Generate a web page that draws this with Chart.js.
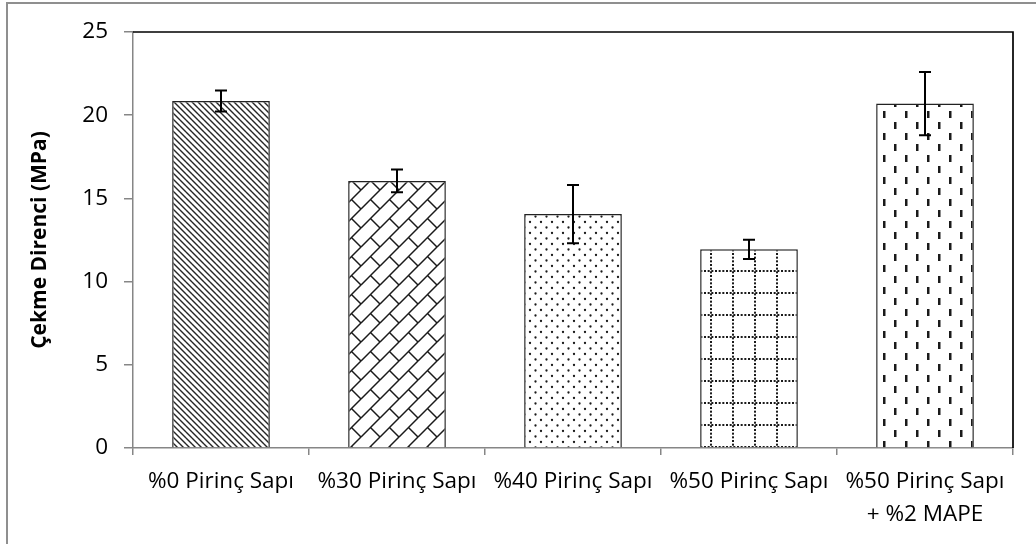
<!DOCTYPE html>
<html lang="tr">
<head>
<meta charset="utf-8">
<title>Çekme Direnci</title>
<script src="https://cdn.jsdelivr.net/npm/chart.js@4/dist/chart.umd.min.js"></script>
<style>
  html, body { margin: 0; padding: 0; background: #fff; }
  #wrap { position: relative; width: 1036px; height: 544px; }
  canvas { display: block; }
</style>
</head>
<body>
<div id="wrap"><canvas id="chart" width="1036" height="544"></canvas></div>
<script>
// Sample groups (x-axis categories); the last one wraps onto two lines
const categories = [
  '%0 Pirinç Sapı',
  '%30 Pirinç Sapı',
  '%40 Pirinç Sapı',
  '%50 Pirinç Sapı',
  ['%50 Pirinç Sapı', '+ %2 MAPE']
];
// Mean tensile strength (MPa) and its standard deviation
const tensileStrength = [20.85, 16.05, 14.06, 11.94, 20.70];
const errorMargin = [0.63, 0.68, 1.75, 0.58, 1.90];
// Value axis
const yMin = 0;
const yMax = 25;
const yStep = 5;
const yTitle = 'Çekme Direnci (MPa)';

const INK = '#1a1a1a';

function makeTile(size, draw) {
  const c = document.createElement('canvas');
  c.width = size; c.height = size;
  const g = c.getContext('2d');
  g.fillStyle = '#fff';
  g.fillRect(0, 0, size, size);
  g.strokeStyle = INK;
  g.fillStyle = INK;
  draw(g, size);
  return document.createElement('canvas').getContext('2d').createPattern(c, 'repeat');
}

// Repeat a drawing at the 3x3 neighbouring offsets so edges wrap seamlessly
function wrapped(g, s, fn) {
  for (let dx = -s; dx <= s; dx += s) {
    for (let dy = -s; dy <= s; dy += s) fn(dx, dy);
  }
}

// 1) dense downward diagonal hatch
const hatchDiagonal = makeTile(6, (g, s) => {
  g.lineWidth = 1.4;
  g.strokeStyle = '#262626';
  wrapped(g, s, (dx, dy) => {
    g.beginPath(); g.moveTo(dx, dy); g.lineTo(dx + s, dy + s); g.stroke();
  });
});

// 2) diagonal brick
const hatchBrick = makeTile(19, (g, s) => {
  g.lineWidth = 1.5;
  wrapped(g, s, (dx, dy) => {
    g.beginPath(); g.moveTo(dx, dy + s); g.lineTo(dx + s, dy); g.stroke();
    g.beginPath(); g.moveTo(dx + s / 2, dy + s / 2); g.lineTo(dx + s, dy + s); g.stroke();
  });
});

// 3) sparse staggered dots
const hatchDots = makeTile(11, (g, s) => {
  wrapped(g, s, (dx, dy) => {
    g.beginPath(); g.arc(dx + 2, dy + 2, 1.15, 0, Math.PI * 2); g.fill();
    g.beginPath(); g.arc(dx + 2 + s / 2, dy + 2 + s / 2, 1.15, 0, Math.PI * 2); g.fill();
  });
});

// 4) dotted grid
const hatchDottedGrid = makeTile(22, (g, s) => {
  const n = 6, step = s / n;
  for (let i = 0; i < n; i++) {
    g.fillRect(i * step, 6, 2, 2);
    g.fillRect(6, i * step, 2, 2);
  }
});

// 5) staggered short vertical dashes
const hatchDashes = makeTile(22, (g, s) => {
  g.fillRect(3, 1, 2.5, 7);
  g.fillRect(14, 12, 2.5, 7);
});

const patterns = [hatchDiagonal, hatchBrick, hatchDots, hatchDottedGrid, hatchDashes];

// Outer chart border plus the top/right edges of the plot frame
const framePlugin = {
  id: 'frame',
  beforeDraw(chart) {
    const ctx = chart.ctx;
    ctx.save();
    ctx.strokeStyle = '#8f8f8f';
    ctx.lineWidth = 2;
    ctx.beginPath();
    ctx.moveTo(7, chart.height);
    ctx.lineTo(7, 3);
    ctx.lineTo(chart.width, 3);
    ctx.stroke();
    ctx.restore();
  },
  afterDraw(chart) {
    const { ctx, chartArea: a } = chart;
    ctx.save();
    ctx.strokeStyle = '#000';
    ctx.lineWidth = 1.7;
    ctx.beginPath();
    ctx.moveTo(a.left, a.top);
    ctx.lineTo(a.right, a.top);
    ctx.lineTo(a.right, a.bottom);
    ctx.stroke();
    ctx.restore();
  }
};

// Standard-deviation whiskers, placed through the y scale
const errorBarPlugin = {
  id: 'errorBars',
  afterDatasetsDraw(chart) {
    const { ctx } = chart;
    const y = chart.scales.y;
    const meta = chart.getDatasetMeta(0);
    ctx.save();
    ctx.strokeStyle = '#000';
    ctx.lineWidth = 2;
    meta.data.forEach((bar, i) => {
      const v = tensileStrength[i], e = errorMargin[i];
      const yHi = y.getPixelForValue(v + e);
      const yLo = y.getPixelForValue(v - e);
      const x = bar.x, cap = 6;
      ctx.beginPath();
      ctx.moveTo(x, yHi); ctx.lineTo(x, yLo);
      ctx.moveTo(x - cap, yHi); ctx.lineTo(x + cap, yHi);
      ctx.moveTo(x - cap, yLo); ctx.lineTo(x + cap, yLo);
      ctx.stroke();
    });
    ctx.restore();
  }
};

const AXIS_GREY = '#868686';

new Chart(document.getElementById('chart'), {
  type: 'bar',
  data: {
    labels: categories,
    datasets: [{
      data: tensileStrength,
      backgroundColor: patterns,
      borderColor: '#222',
      borderWidth: 1.5,
      categoryPercentage: 1,
      barPercentage: 0.555
    }]
  },
  options: {
    responsive: false,
    animation: false,
    devicePixelRatio: 1,
    layout: { padding: { top: 32, right: 23, bottom: 0, left: 0 } },
    plugins: {
      legend: { display: false },
      tooltip: { enabled: false }
    },
    scales: {
      x: {
        grid: {
          display: true,
          offset: true,
          drawOnChartArea: false,
          drawTicks: true,
          tickLength: 7,
          color: AXIS_GREY,
          lineWidth: 1.5
        },
        border: { display: true, color: AXIS_GREY, width: 1.5 },
        ticks: {
          color: '#000',
          padding: 10,
          maxRotation: 0,
          autoSkip: false,
          font: { family: "'Open Sans'", size: 22.5, lineHeight: 1.48 }
        },
        afterFit(scale) { scale.height = 96; }
      },
      y: {
        min: yMin,
        max: yMax,
        ticks: {
          stepSize: yStep,
          color: '#000',
          padding: 16,
          font: { family: "'Open Sans'", size: 22.5 }
        },
        grid: {
          display: true,
          drawOnChartArea: false,
          drawTicks: true,
          tickLength: 9,
          color: AXIS_GREY,
          lineWidth: 1.5
        },
        border: { display: true, color: AXIS_GREY, width: 1.5 },
        title: {
          display: true,
          text: yTitle,
          color: '#000',
          padding: { top: 27, bottom: 0 },
          font: { family: "'Open Sans'", size: 21, weight: 'bold' }
        },
        afterFit(scale) { scale.width = 133; }
      }
    }
  },
  plugins: [framePlugin, errorBarPlugin]
});
</script>
</body>
</html>
